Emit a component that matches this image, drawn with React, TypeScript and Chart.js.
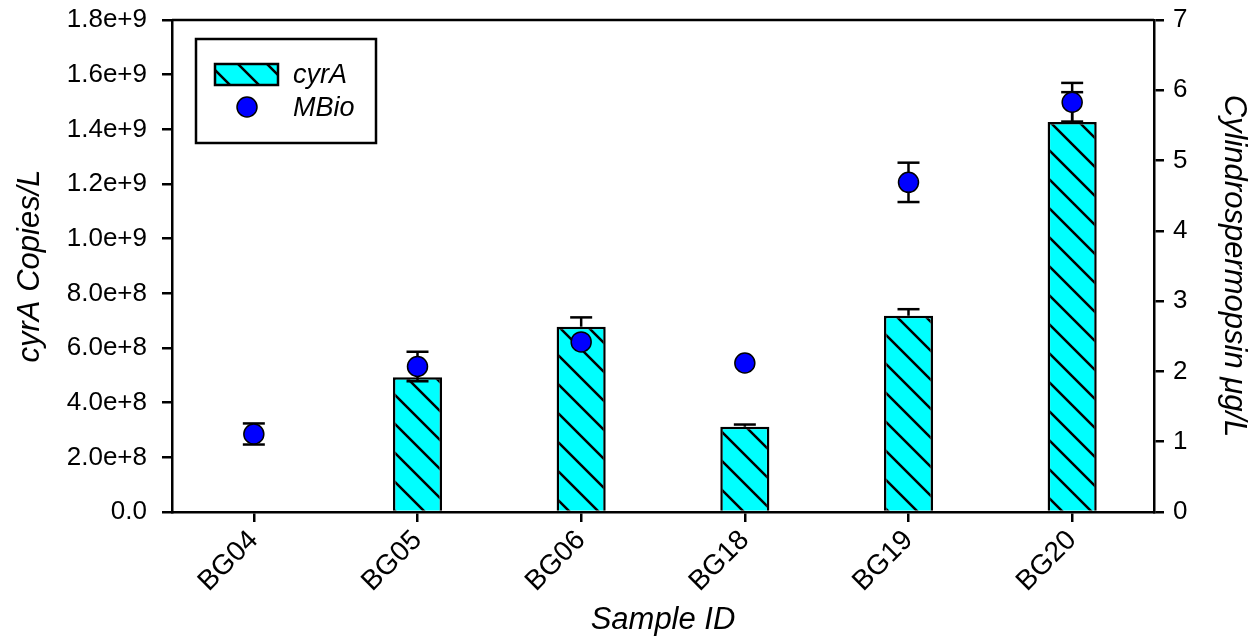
import React, { useEffect, useRef } from 'react';
import { Chart, registerables } from 'chart.js';

Chart.register(...registerables);

// ---- data ----
const categories = ['BG04', 'BG05', 'BG06', 'BG18', 'BG19', 'BG20'];
const cyrAValues = [0, 4.93e8, 6.78e8, 3.12e8, 7.18e8, 1.427e9];
const cyrAErrUp = [0, 0, 3.4e7, 8e6, 2.4e7, 1.09e8];
const mbioValues = [1.11, 2.07, 2.42, 2.12, 4.69, 5.83];
const mbioErr = [0.15, 0.21, 0, 0, 0.28, 0.275];
const leftTickLabels = ['0.0', '2.0e+8', '4.0e+8', '6.0e+8', '8.0e+8', '1.0e+9', '1.2e+9', '1.4e+9', '1.6e+9', '1.8e+9'];
const rightTickLabels = ['0', '1', '2', '3', '4', '5', '6', '7'];

const FONT = "'Liberation Sans', Arial, sans-serif";
const CYAN = '#00FFFF';
const LW = 2.5;

function makeHatch(): CanvasPattern | string {
  const s = 29;
  const c = document.createElement('canvas');
  c.width = s;
  c.height = s;
  const g = c.getContext('2d');
  if (!g) return CYAN;
  g.fillStyle = CYAN;
  g.fillRect(0, 0, s, s);
  g.strokeStyle = '#000';
  g.lineWidth = 2.5;
  g.beginPath();
  for (let k = -1; k <= 1; k++) {
    g.moveTo(k * s - 2, -2);
    g.lineTo(k * s + s + 2, s + 2);
  }
  g.stroke();
  return g.createPattern(c, 'repeat') || CYAN;
}

function drawCap(ctx: CanvasRenderingContext2D, x: number, y: number, half: number) {
  ctx.beginPath();
  ctx.moveTo(x - half, y);
  ctx.lineTo(x + half, y);
  ctx.stroke();
}

const errorBarPlugin = {
  id: 'errorBars',
  afterDatasetDraw(chart: any, args: any) {
    if (args.index !== 0) return;
    const ctx = chart.ctx;
    const y = chart.scales.y;
    const meta = args.meta;
    ctx.save();
    ctx.strokeStyle = '#000';
    ctx.lineWidth = LW;
    meta.data.forEach((el: any, i: number) => {
      const e = cyrAErrUp[i];
      if (!e) return;
      const x = el.x;
      const y0 = y.getPixelForValue(cyrAValues[i]);
      const y1 = y.getPixelForValue(cyrAValues[i] + e);
      ctx.beginPath();
      ctx.moveTo(x, y0);
      ctx.lineTo(x, y1);
      ctx.stroke();
      drawCap(ctx, x, y1, 11);
    });
    ctx.restore();
  },
  beforeDatasetDraw(chart: any, args: any) {
    if (args.index !== 1) return;
    const ctx = chart.ctx;
    const y = chart.scales.y1;
    const meta = args.meta;
    ctx.save();
    ctx.strokeStyle = '#000';
    ctx.lineWidth = LW;
    meta.data.forEach((el: any, i: number) => {
      const e = mbioErr[i];
      if (!e) return;
      const x = el.x;
      const yt = y.getPixelForValue(mbioValues[i] + e);
      const yb = y.getPixelForValue(mbioValues[i] - e);
      ctx.beginPath();
      ctx.moveTo(x, yt);
      ctx.lineTo(x, yb);
      ctx.stroke();
      drawCap(ctx, x, yt, 11);
      drawCap(ctx, x, yb, 11);
    });
    ctx.restore();
  },
};

const framePlugin = {
  id: 'frameAndLegend',
  afterDraw(chart: any) {
    const ctx = chart.ctx;
    const a = chart.chartArea;
    ctx.save();
    ctx.strokeStyle = '#000';
    ctx.lineWidth = LW;
    ctx.beginPath();
    ctx.moveTo(a.left, a.top);
    ctx.lineTo(a.right, a.top);
    ctx.stroke();

    // legend box
    const bx = a.left + 24;
    const by = a.top + 19;
    ctx.fillStyle = '#fff';
    ctx.fillRect(bx, by, 180, 104);
    ctx.strokeRect(bx, by, 180, 104);

    // bar sample
    const pat = (chart as any).$hatch || CYAN;
    ctx.fillStyle = pat;
    ctx.fillRect(bx + 19, by + 25, 63, 21);
    ctx.strokeRect(bx + 19, by + 25, 63, 21);

    // point sample
    ctx.beginPath();
    ctx.arc(bx + 51, by + 68, 10, 0, Math.PI * 2);
    ctx.fillStyle = '#0000FF';
    ctx.fill();
    ctx.lineWidth = 1.5;
    ctx.stroke();

    ctx.fillStyle = '#000';
    ctx.font = `italic 27px ${FONT}`;
    ctx.textAlign = 'left';
    ctx.textBaseline = 'middle';
    ctx.fillText(chart.data.datasets[0].label, bx + 97, by + 36);
    ctx.fillText(chart.data.datasets[1].label, bx + 97, by + 69);
    ctx.restore();
  },
};

export default function App() {
  const ref = useRef<HTMLCanvasElement | null>(null);

  useEffect(() => {
    if (!ref.current) return;
    const hatch = makeHatch();
    const tickGrid = {
      display: true,
      drawOnChartArea: false,
      drawTicks: true,
      tickLength: 10,
      tickWidth: LW,
      tickColor: '#000',
      color: '#000',
      lineWidth: LW,
      offset: false,
    };
    const zeroPad = (s: any) => {
      s.paddingTop = 0;
      s.paddingBottom = 0;
      s.paddingLeft = 0;
      s.paddingRight = 0;
    };
    const chart = new Chart(ref.current, {
      type: 'bar',
      data: {
        labels: categories,
        datasets: [
          {
            type: 'bar',
            label: 'cyrA',
            data: cyrAValues,
            backgroundColor: hatch as any,
            borderColor: '#000',
            borderWidth: LW,
            barPercentage: 0.3,
            categoryPercentage: 1,
            yAxisID: 'y',
            order: 1,
          } as any,
          {
            type: 'line',
            label: 'MBio',
            data: mbioValues,
            showLine: false,
            pointRadius: 10,
            pointHoverRadius: 10,
            pointBackgroundColor: '#0000FF',
            pointBorderColor: '#000',
            pointBorderWidth: 1.5,
            yAxisID: 'y1',
            order: 0,
          } as any,
        ],
      },
      options: {
        responsive: false,
        animation: false,
        layout: { padding: { top: 20, left: 0, right: 0, bottom: 0 } },
        plugins: {
          legend: { display: false },
          tooltip: { enabled: false },
        },
        scales: {
          x: {
            type: 'category',
            offset: true,
            grid: tickGrid as any,
            border: { display: true, color: '#000', width: LW },
            ticks: {
              color: '#000',
              font: { family: FONT, size: 28 },
              minRotation: 45,
              maxRotation: 45,
              padding: 2,
            },
            title: {
              display: true,
              text: 'Sample ID',
              color: '#000',
              font: { family: FONT, size: 31, style: 'italic' },
              padding: { top: 0, bottom: 0 },
            },
            afterFit: (s: any) => {
              s.height = 127;
              zeroPad(s);
            },
          },
          y: {
            type: 'linear',
            position: 'left',
            min: 0,
            max: 1.8e9,
            grid: tickGrid as any,
            border: { display: true, color: '#000', width: LW },
            ticks: {
              stepSize: 2e8,
              color: '#000',
              padding: 15,
              font: { family: FONT, size: 26 },
              callback: (_v: any, i: number) => leftTickLabels[i],
            },
            title: {
              display: true,
              text: 'cyrA Copies/L',
              color: '#000',
              font: { family: FONT, size: 31, style: 'italic' },
              padding: { top: 12, bottom: 0 },
            },
            afterFit: (s: any) => {
              s.width = 172;
              zeroPad(s);
            },
          },
          y1: {
            type: 'linear',
            position: 'right',
            min: 0,
            max: 7,
            grid: tickGrid as any,
            border: { display: true, color: '#000', width: LW },
            ticks: {
              stepSize: 1,
              color: '#000',
              padding: 9,
              font: { family: FONT, size: 26 },
              callback: (_v: any, i: number) => rightTickLabels[i],
            },
            title: {
              display: true,
              text: 'Cylindrospermopsin μg/L',
              color: '#000',
              font: { family: FONT, size: 31, style: 'italic' },
              padding: { top: 7, bottom: 0 },
            },
            afterFit: (s: any) => {
              s.width = 105;
              zeroPad(s);
            },
          },
        },
      },
      plugins: [errorBarPlugin, framePlugin],
    } as any);
    (chart as any).$hatch = hatch;
    chart.draw();
    return () => chart.destroy();
  }, []);

  return (
    <div style={{ position: 'absolute', left: 0, top: 0, width: 1259, height: 639, background: '#fff' }}>
      <canvas ref={ref} width={1259} height={639} />
    </div>
  );
}
